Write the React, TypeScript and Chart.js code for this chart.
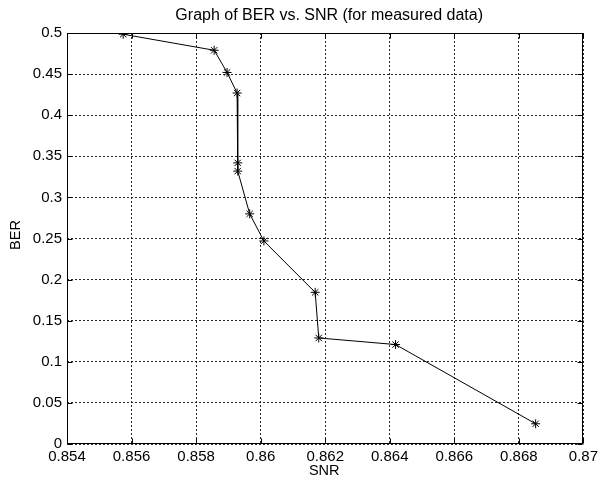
import React, { useEffect, useRef } from "react";
import { Chart, registerables } from "chart.js";

Chart.register(...registerables);

const snr = [0.85574, 0.85856, 0.85896, 0.85927, 0.85929, 0.85929, 0.85966, 0.8601, 0.86169, 0.8618, 0.86418, 0.86852];
const ber = [0.4985, 0.479, 0.452, 0.427, 0.342, 0.332, 0.28, 0.247, 0.1845, 0.129, 0.121, 0.0246];
const titleText = "Graph of BER vs. SNR (for measured data)";
const xTitle = "SNR";
const yTitle = "BER";
const xMin = 0.854, xMax = 0.87, xStep = 0.002;
const yMin = 0, yMax = 0.5, yStep = 0.05;

const FONT = "'Liberation Sans', Arial, Helvetica, sans-serif";

const fmt = (v: number) => String(parseFloat(Number(v).toFixed(4)));

const matlabPlugin = {
  id: "matlabBox",
  afterDraw(chart: any) {
    const { ctx, chartArea: a, scales } = chart;
    ctx.save();
    ctx.strokeStyle = "#000";
    ctx.lineWidth = 1;
    ctx.setLineDash([]);
    const L = Math.round(a.left) + 0.5, R = Math.round(a.right) - 0.5;
    const T = Math.round(a.top) + 0.5, B = Math.round(a.bottom) - 0.5;
    ctx.strokeRect(L, T, R - L, B - T);
    const tl = 5;
    ctx.beginPath();
    scales.x.ticks.forEach((t: any) => {
      const px = Math.round(scales.x.getPixelForValue(t.value)) + 0.5;
      ctx.moveTo(px, B); ctx.lineTo(px, B - tl);
      ctx.moveTo(px, T); ctx.lineTo(px, T + tl);
    });
    scales.y.ticks.forEach((t: any) => {
      const py = Math.round(scales.y.getPixelForValue(t.value)) + 0.5;
      ctx.moveTo(L, py); ctx.lineTo(L + tl, py);
      ctx.moveTo(R, py); ctx.lineTo(R - tl, py);
    });
    ctx.stroke();
    ctx.fillStyle = "#000";
    ctx.textAlign = "center";
    ctx.textBaseline = "middle";
    const cx = (a.left + a.right) / 2;
    ctx.font = `16px ${FONT}`;
    ctx.fillText(titleText, cx + 4, 16);
    ctx.font = `14.5px ${FONT}`;
    ctx.fillText(xTitle, cx - 1, 471);
    ctx.translate(16, 235);
    ctx.rotate(-Math.PI / 2);
    ctx.fillText(yTitle, 0, 0);
    ctx.restore();
  },
};

export default function App() {
  const ref = useRef<HTMLCanvasElement | null>(null);
  useEffect(() => {
    if (!ref.current) return;
    const data = snr.map((x, i) => ({ x, y: ber[i] }));
    const chart = new Chart(ref.current, {
      type: "scatter",
      data: {
        datasets: [
          {
            data,
            showLine: true,
            borderColor: "#000",
            borderWidth: 1,
            pointStyle: "star",
            pointRadius: 4.5,
            pointBorderColor: "#000",
            pointBackgroundColor: "#000",
            pointBorderWidth: 1,
            tension: 0,
          },
        ],
      },
      options: {
        responsive: false,
        animation: false,
        events: [],
        layout: { padding: { top: 33, right: 16, bottom: 0, left: 0 } },
        plugins: { legend: { display: false }, tooltip: { enabled: false }, title: { display: false } },
        scales: {
          x: {
            type: "linear",
            min: xMin,
            max: xMax,
            afterBuildTicks: (s: any) => {
              const t = [];
              for (let v = xMin; v <= xMax + 1e-9; v += xStep) t.push({ value: parseFloat(v.toFixed(4)) });
              s.ticks = t;
            },
            afterFit: (s: any) => { s.height = 42; },
            ticks: { callback: (v: any) => fmt(v), color: "#000", font: { family: FONT, size: 15 }, padding: 4, maxRotation: 0, autoSkip: false },
            grid: { color: "rgba(0,0,0,0.85)", drawTicks: false, lineWidth: 1 },
            border: { display: false, dash: [2, 2] },
          },
          y: {
            type: "linear",
            min: yMin,
            max: yMax,
            afterBuildTicks: (s: any) => {
              const t = [];
              for (let v = yMin; v <= yMax + 1e-9; v += yStep) t.push({ value: parseFloat(v.toFixed(4)) });
              s.ticks = t;
            },
            afterFit: (s: any) => { s.width = 67; },
            ticks: { callback: (v: any) => fmt(v), color: "#000", font: { family: FONT, size: 15 }, padding: 5, autoSkip: false },
            grid: { color: "rgba(0,0,0,0.85)", drawTicks: false, lineWidth: 1 },
            border: { display: false, dash: [2, 2] },
          },
        },
      },
      plugins: [matlabPlugin],
    });
    return () => chart.destroy();
  }, []);
  return (
    <div style={{ position: "fixed", left: 0, top: 0, width: 602, height: 486, background: "#fff" }}>
      <canvas ref={ref} width={602} height={486} style={{ display: "block" }} />
    </div>
  );
}
